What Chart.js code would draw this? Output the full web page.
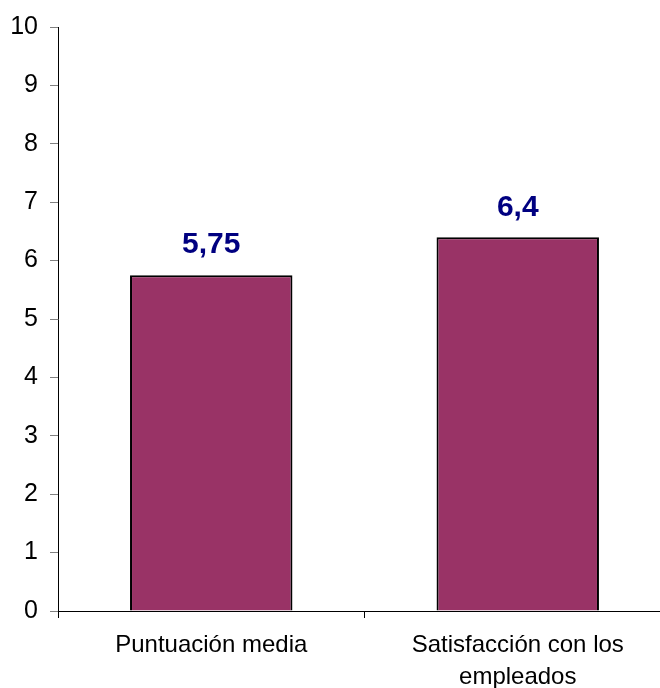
<!DOCTYPE html>
<html lang="es">
<head>
  <meta charset="UTF-8" />
  <title>Puntuación</title>
  <script src="https://cdn.jsdelivr.net/npm/chart.js"></script>
  <style>
    html, body { margin: 0; padding: 0; background: #fff; overflow: hidden; }
    #wrap { width: 672px; height: 688px; }
  </style>
</head>
<body>
<div id="wrap"><canvas id="chart" width="672" height="688"></canvas></div>
<script>
  // datos
  const categories = [['Puntuación media'], ['Satisfacción con los', 'empleados']];
  const values = [5.75, 6.4];
  const valueLabels = ['5,75', '6,4'];
  const yTicks = [0, 1, 2, 3, 4, 5, 6, 7, 8, 9, 10];

  const FONT = "'Liberation Sans', Arial, sans-serif";

  // etiquetas encima de las barras
  const barLabels = {
    id: 'barLabels',
    afterDatasetsDraw(chart) {
      const ctx = chart.ctx;
      const meta = chart.getDatasetMeta(0);
      ctx.save();
      ctx.font = 'bold 30px ' + FONT;
      ctx.fillStyle = '#000080';
      ctx.textAlign = 'center';
      ctx.textBaseline = 'middle';
      meta.data.forEach((bar, i) => {
        ctx.fillText(valueLabels[i], bar.x, bar.y - 30);
      });
      ctx.restore();
    }
  };

  new Chart(document.getElementById('chart'), {
    type: 'bar',
    data: {
      labels: categories,
      datasets: [{
        data: values,
        backgroundColor: '#993366',
        borderColor: '#000000',
        borderWidth: 2,
        categoryPercentage: 0.53,
        barPercentage: 1
      }]
    },
    options: {
      responsive: false,
      animation: false,
      layout: { padding: { top: 27, right: 1, left: 0, bottom: 0 } },
      plugins: { legend: { display: false }, tooltip: { enabled: false } },
      scales: {
        x: {
          offset: true,
          grid: { offset: true, drawOnChartArea: false, tickLength: 7, color: '#000' },
          border: { display: true, color: '#000', width: 1 },
          ticks: { color: '#000', font: { family: FONT, size: 24, lineHeight: 1.35 }, padding: 11, maxRotation: 0 },
          afterFit(s) { s.height = 77; }
        },
        y: {
          min: 0,
          max: 10,
          afterBuildTicks(s) { s.ticks = yTicks.map(v => ({ value: v })); },
          grid: { drawOnChartArea: false, tickLength: 8, color: '#808080' },
          border: { display: true, color: '#000', width: 1 },
          ticks: { color: '#000', font: { family: FONT, size: 25 }, padding: 12 },
          afterFit(s) { s.width = 58; }
        }
      }
    },
    plugins: [barLabels]
  });
</script>
</body>
</html>
